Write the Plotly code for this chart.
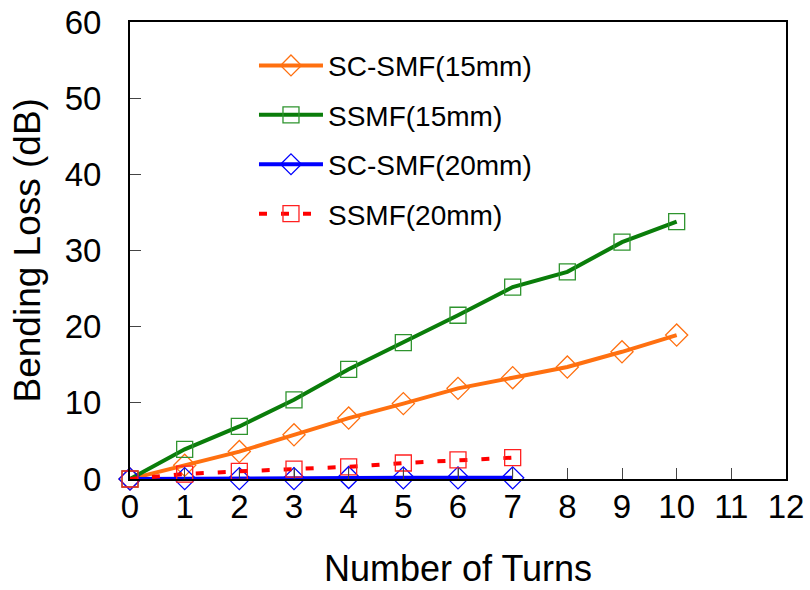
import plotly.graph_objects as go

turns_15 = [0, 1, 2, 3, 4, 5, 6, 7, 8, 9, 10]
sc_smf_15 = [0, 1.8, 3.6, 5.8, 8.0, 9.9, 11.9, 13.3, 14.7, 16.7, 18.9]
ssmf_15 = [0, 3.9, 6.9, 10.4, 14.4, 17.9, 21.5, 25.2, 27.2, 31.1, 33.8]
turns_20 = [0, 1, 2, 3, 4, 5, 6, 7]
sc_smf_20 = [0, 0.05, 0.05, 0.05, 0.2, 0.15, 0.15, 0.15]
sc_smf_20_err = [0, 0, 1.4, 1.5, 1.4, 1.3, 1.3, 1.2]
ssmf_20 = [0, 0.65, 1.0, 1.3, 1.6, 2.1, 2.5, 2.8]

x_ticks = list(range(0, 13))
y_ticks = list(range(0, 61, 10))
x_title = "Number of Turns"
y_title = "Bending Loss (dB)"

FONT = "Liberation Sans, Arial, sans-serif"

fig = go.Figure()
fig.add_trace(go.Scatter(
    x=turns_15, y=sc_smf_15, name="SC-SMF(15mm)", mode="lines+markers",
    line=dict(color="#FF7010", width=4),
    marker=dict(symbol="diamond-open", size=17, color="#FF7010", line=dict(width=1.3)),
    cliponaxis=False, legendgroup="a"))
fig.add_trace(go.Scatter(
    x=turns_15, y=ssmf_15, name="SSMF(15mm)", mode="lines+markers",
    line=dict(color="#0A7D0A", width=4),
    marker=dict(symbol="square-open", size=16, color="#2E942E", line=dict(width=1.3)),
    cliponaxis=False, legendgroup="b"))
fig.add_trace(go.Scatter(
    x=turns_20, y=sc_smf_20, name="SC-SMF(20mm)", mode="lines+markers",
    line=dict(color="#0000FF", width=4),
    marker=dict(symbol="diamond-open", size=17, color="#0000FF", line=dict(width=1.3)),
    error_y=dict(type="data", array=sc_smf_20_err, arrayminus=[0]*len(sc_smf_20_err),
                 symmetric=False, color="#555555", thickness=1, width=0),
    cliponaxis=False, legendgroup="c"))
fig.add_trace(go.Scatter(
    x=turns_20, y=ssmf_20, name="SSMF(20mm)", mode="lines+markers",
    line=dict(color="#FF0000", width=4, dash="8px,14px"),
    marker=dict(symbol="square-open", size=16, color="#FF2020", line=dict(width=1.3)),
    cliponaxis=False, legendgroup="d"))

fig.update_layout(
    width=810, height=590,
    margin=dict(l=130, r=24, t=22, b=111),
    paper_bgcolor="white", plot_bgcolor="white",
    font=dict(family=FONT, color="black"),
    showlegend=True,
    legend=dict(x=0.189, y=0.959, xanchor="left", yanchor="top",
                font=dict(size=28, family=FONT), bgcolor="rgba(0,0,0,0)",
                tracegroupgap=10, itemwidth=64),
    annotations=[
        dict(text=x_title, xref="paper", yref="paper", x=0.5, y=-0.195,
             xanchor="center", yanchor="middle", showarrow=False,
             font=dict(size=36, family=FONT, color="black")),
        dict(text=y_title, xref="paper", yref="paper", x=-0.1555, y=0.5,
             xanchor="center", yanchor="middle", showarrow=False, textangle=-90,
             font=dict(size=37, family=FONT, color="black")),
    ],
)
fig.update_xaxes(
    range=[0, 12], tickvals=x_ticks, ticktext=[str(v) for v in x_ticks],
    ticks="inside", ticklen=11, tickcolor="#444", tickwidth=1,
    showline=True, linecolor="black", linewidth=2, mirror=True,
    showgrid=False, zeroline=False, automargin=False, ticklabelstandoff=-3,
    tickfont=dict(size=33),
)
fig.update_yaxes(
    range=[0, 60], tickvals=y_ticks, ticktext=[str(v) for v in y_ticks],
    ticks="inside", ticklen=11, tickcolor="#444", tickwidth=1,
    showline=True, linecolor="black", linewidth=2, mirror=True,
    showgrid=False, zeroline=False, automargin=False, ticklabelstandoff=20,
    tickfont=dict(size=33),
)

fig.write_html("out.html")
